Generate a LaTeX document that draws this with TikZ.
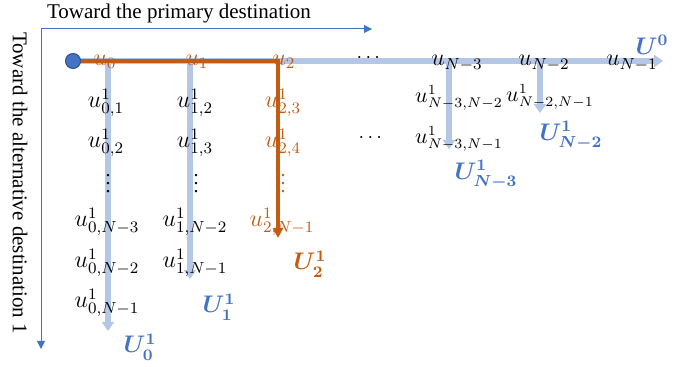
\documentclass[tikz,border=0pt]{standalone}
\usepackage{amsmath,amssymb}
\usepackage{fontspec}
\setmainfont{Liberation Serif}
\usepackage{tikz}
\usetikzlibrary{arrows.meta, positioning, calc}

\definecolor{pathblue}{RGB}{180,199,231}
\definecolor{labelblue}{RGB}{68,114,196}
\definecolor{dotedge}{RGB}{47,82,143}
\definecolor{chosen}{RGB}{197,90,17}

\begin{document}
\begin{tikzpicture}[
    x=0.5pt, y=-0.5pt,
    axis/.style={-{Triangle[width=4pt,length=4pt]}, draw=labelblue, line width=0.5pt},
    route/.style={-{Triangle[width=6pt,length=4.5pt]}, draw=pathblue, line width=2.6pt},
    picked/.style={-{Triangle[width=5pt,length=5pt]}, draw=chosen, line width=1.6pt},
    lbl/.style={font=\fontsize{11.5}{13}\selectfont, inner sep=0pt},
    small/.style={font=\fontsize{10.5}{12}\selectfont, inner sep=0pt},
    dots/.style={font=\fontsize{10}{11}\selectfont, inner sep=0pt},
    sel/.style={lbl, text=chosen},
    set/.style={font=\fontsize{12}{14}\selectfont, inner sep=0pt, text=labelblue},
    axtext/.style={font=\fontsize{10.5}{12}\selectfont, inner sep=0pt},
]
\useasboundingbox (0,0) rectangle (694,367);

% axes
\coordinate (corner) at (41,29);
\coordinate (xend) at (372,29);
\coordinate (yend) at (41,349);
\draw[axis] (corner) -- (xend);
\draw[axis] (corner) -- (yend);
\node[axtext] (xlabel) at (179,13) {Toward the primary destination};
\node[axtext, rotate=-90] (ylabel) at (20,183) {Toward the alternative destination 1};

% branching points and arrow tips
\coordinate (start) at (73,61);
\coordinate (tip) at (663,61);
\coordinate (b0) at (108,61);   \coordinate (t0) at (108,331);
\coordinate (b1) at (190,61);   \coordinate (t1) at (190,279);
\coordinate (b2) at (278,61);   \coordinate (t2) at (278,238);
\coordinate (b3) at (449,61);   \coordinate (t3) at (449,149);
\coordinate (b4) at (540,61);   \coordinate (t4) at (540,113);

\draw[route] (start) -- (tip);
\draw[route] (b0) -- (t0);
\draw[route] (b1) -- (t1);
\draw[route] (b3) -- (t3);
\draw[route] (b4) -- (t4);
\draw[picked] (start) -- (b2) -- (t2);

\node[circle, draw=dotedge, fill=labelblue, line width=0.5pt, minimum size=7.5pt, inner sep=0pt] (origin) at (start) {};

% main route
\node[sel] (u0) at (105,62) {$u_0$};
\node[sel] (u1) at (197,62) {$u_1$};
\node[sel] (u2) at (284,62) {$u_2$};
\node[dots] (hdots) at (370,58) {$\cdots$};
\node[lbl] (un3) at (457,63) {$u_{N-3}$};
\node[lbl] (un2) at (544,63) {$u_{N-2}$};
\node[lbl] (un1) at (632,63) {$u_{N-1}$};
\node[set] (U0) at (652,45) {$\boldsymbol{U^{0}}$};

% branch 0
\node[lbl] (u01) at (106,103) {$u^1_{0,1}$};
\node[lbl] (u02) at (106,143) {$u^1_{0,2}$};
\node[dots] (v0) at (108,178) {$\vdots$};
\node[lbl] (u0n3) at (107,222) {$u^1_{0,N-3}$};
\node[lbl] (u0n2) at (107,263) {$u^1_{0,N-2}$};
\node[lbl] (u0n1) at (107,303) {$u^1_{0,N-1}$};
\node[set] (U10) at (140,347) {$\boldsymbol{U^{1}_{0}}$};

% branch 1
\node[lbl] (u12) at (195,103) {$u^1_{1,2}$};
\node[lbl] (u13) at (195,143) {$u^1_{1,3}$};
\node[dots] (v1) at (196,178) {$\vdots$};
\node[lbl] (u1n2) at (195,222) {$u^1_{1,N-2}$};
\node[lbl] (u1n1) at (195,263) {$u^1_{1,N-1}$};
\node[set] (U11) at (219,307) {$\boldsymbol{U^{1}_{1}}$};

% branch 2 (chosen)
\node[sel] (u23) at (283,103) {$u^1_{2,3}$};
\node[sel] (u24) at (283,143) {$u^1_{2,4}$};
\node[dots, text=chosen] (v2) at (283,178) {$\vdots$};
\node[sel] (u2n1) at (282,222) {$u^1_{2,N-1}$};
\node[set, text=chosen] (U12) at (310,264) {$\boldsymbol{U^{1}_{2}}$};

% branches N-3 and N-2
\node[small] (un3n2) at (459,98) {$u^1_{N-3,N-2}$};
\node[small] (un3n1) at (459,139) {$u^1_{N-3,N-1}$};
\node[dots] (hdots2) at (372,138) {$\cdots$};
\node[set] (U1n3) at (486,175) {$\boldsymbol{U^{1}_{N-3}}$};
\node[small] (un2n1) at (550,97) {$u^1_{N-2,N-1}$};
\node[set] (U1n2) at (571,136) {$\boldsymbol{U^{1}_{N-2}}$};

\end{tikzpicture}
\end{document}
